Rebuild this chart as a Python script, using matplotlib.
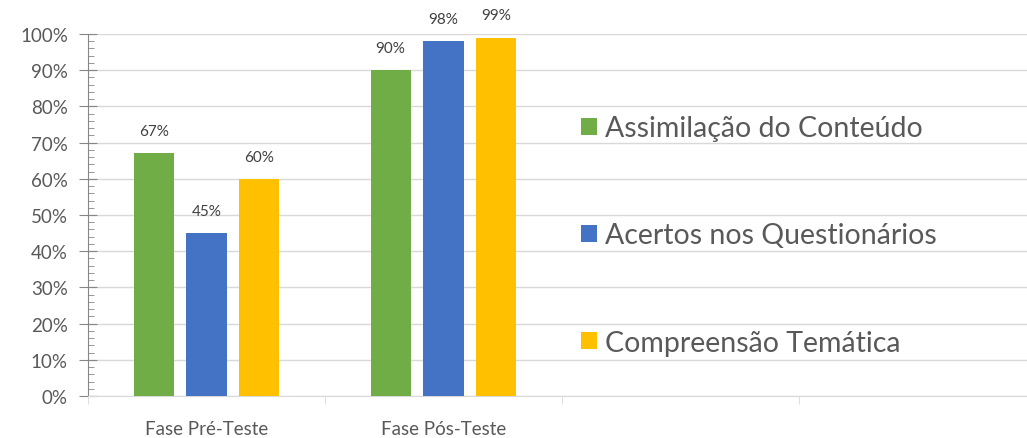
import matplotlib
matplotlib.use("Agg")
import matplotlib.pyplot as plt
from matplotlib.patches import Patch
from matplotlib.ticker import MultipleLocator, PercentFormatter
import numpy as np

categories = ["Fase Pré-Teste", "Fase Pós-Teste", "", ""]
series_names = ["Assimilação do Conteúdo", "Acertos nos Questionários", "Compreensão Temática"]
assimilacao = [67, 90, None, None]
acertos = [45, 98, None, None]
compreensao = [60, 99, None, None]
colors = ["#70AD47", "#4472C4", "#FFC000"]

plt.rcParams['font.family'] = ['Lato', 'DejaVu Sans']

W, H = 1027, 439
fig = plt.figure(figsize=(W / 100, H / 100), dpi=100)
x0, x1 = 88, 1036
y0, y1 = 397, 35
ax = fig.add_axes([x0 / W, (H - y0) / H, (x1 - x0) / W, (y0 - y1) / H])

n = len(categories)
xs = np.arange(n)
width = 0.169
pitch = 0.223
all_series = [assimilacao, acertos, compreensao]
for i, (vals, c) in enumerate(zip(all_series, colors)):
    for xi, v in zip(xs, vals):
        if v is None:
            continue
        pos = xi + (i - 1) * pitch
        ax.bar(pos, v, width=width, color=c, zorder=3)
        ax.annotate(f"{v}%", (pos, v), xytext=(0, 11), textcoords="offset points",
                    ha="center", va="bottom", fontsize=11, color="#404040", annotation_clip=False)

ax.set_xlim(-0.5, n - 0.5)
ax.set_ylim(0, 100)
ax.yaxis.set_major_locator(MultipleLocator(10))
ax.yaxis.set_minor_locator(MultipleLocator(2))
ax.yaxis.set_major_formatter(PercentFormatter(decimals=0))
ax.grid(axis="y", which="major", color="#D9D9D9", linewidth=1, zorder=0)

ax.set_xticks(xs)
ax.set_xticklabels(categories)
ax.set_xticks(np.arange(n + 1) - 0.5, minor=True)
ax.tick_params(axis="x", which="major", length=0, pad=17, labelsize=13.5, labelcolor="#595959")
ax.tick_params(axis="x", which="minor", length=6, color="#D9D9D9", direction="out")
ax.tick_params(axis="y", which="major", length=13, direction="inout", color="#868686",
               labelsize=13.5, labelcolor="#595959", pad=8)
ax.tick_params(axis="y", which="minor", length=4, direction="in", color="#868686")

for s in ["top", "right"]:
    ax.spines[s].set_visible(False)
ax.spines["left"].set_color("#868686")
ax.spines["bottom"].set_color("#D9D9D9")

handles = [Patch(facecolor=c, edgecolor="none") for c in colors]
leg = fig.legend(handles, series_names, loc="upper left", bbox_to_anchor=(567 / W, 1 - 102 / H),
                 frameon=False, fontsize=20.5, labelcolor="#595959", handlelength=0.55, handleheight=0.55,
                 handletextpad=0.3, labelspacing=2.85, borderpad=0)

fig.savefig("out.png", dpi=100, facecolor="white")
